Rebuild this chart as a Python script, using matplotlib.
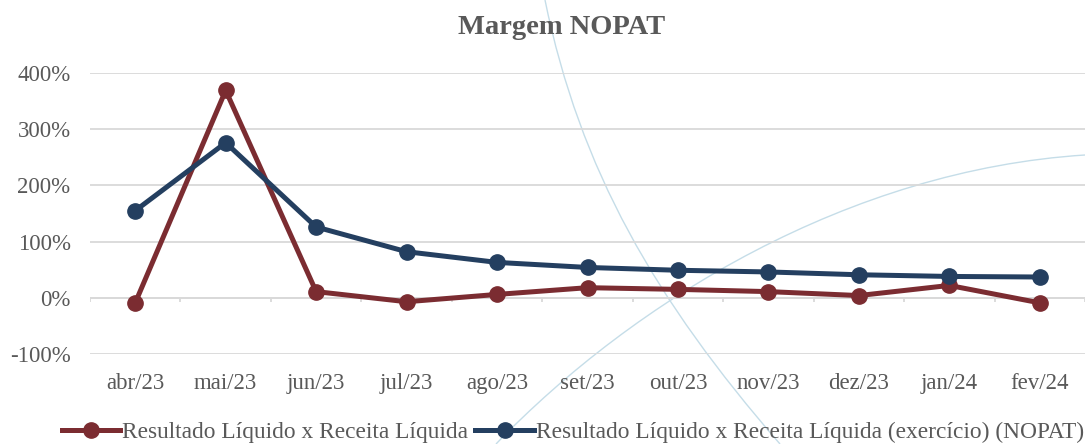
import matplotlib
matplotlib.use("Agg")
import matplotlib.pyplot as plt
from matplotlib.path import Path
from matplotlib.patches import PathPatch

plt.rcParams["font.family"] = ["Liberation Serif", "DejaVu Serif"]

# ── data ────────────────────────────────────────────────────────────────────
months = ["abr/23", "mai/23", "jun/23", "jul/23", "ago/23", "set/23",
          "out/23", "nov/23", "dez/23", "jan/24", "fev/24"]
resultado_liquido = [-9, 369, 11, -7, 6, 18, 15, 11, 4, 22, -9]
nopat = [155, 276, 126, 82, 63, 54, 49, 46, 41, 38, 37]
label_rl = "Resultado Líquido x Receita Líquida"
label_nopat = "Resultado Líquido x Receita Líquida (exercício) (NOPAT)"

RED = "#7B2C31"
BLUE = "#243F60"
TXT = "#595959"
GRID = "#D9D9D9"

W, H = 1085, 444
fig = plt.figure(figsize=(W / 100, H / 100), dpi=100)
ax = fig.add_axes([90 / W, 1 - 354 / H, 995 / W, (354 - 73) / H])

# decorative background arcs (template watermark)
def fig_curve(pts):
    verts = [(x / W, 1 - y / H) for x, y in pts]
    p = Path(verts, [Path.MOVETO, Path.CURVE4, Path.CURVE4, Path.CURVE4])
    fig.add_artist(PathPatch(p, transform=fig.transFigure, fill=False,
                             edgecolor="#C5DDE8", lw=1.0, zorder=0))

fig_curve([(545, 0), (580, 170), (655, 300), (780, 444)])
fig_curve([(496, 444), (635, 300), (850, 170), (1085, 155)])
ax.set_facecolor("none")

x = list(range(len(months)))
ax.plot(x, resultado_liquido, color=RED, lw=3.6, marker="o", ms=11,
        label=label_rl, zorder=3, solid_joinstyle="round")
ax.plot(x, nopat, color=BLUE, lw=3.6, marker="o", ms=11,
        label=label_nopat, zorder=3, solid_joinstyle="round")

ax.set_xlim(-0.5, len(months) - 0.5)
ax.set_ylim(-100, 400)
ax.set_yticks(range(-100, 401, 100))
ax.set_yticklabels([f"{v}%" for v in range(-100, 401, 100)])
ax.grid(axis="y", color=GRID, lw=1.3)
ax.set_axisbelow(True)
for s in ax.spines.values():
    s.set_visible(False)
ax.axhline(0, color=GRID, lw=1.3, zorder=1)
ax.vlines([i - 0.5 for i in range(len(months) + 1)], -8, 0, color=GRID, lw=1.3, zorder=1)

ax.set_xticks(x)
ax.set_xticklabels(months)
ax.tick_params(axis="x", length=0, pad=14, labelsize=16.5, labelcolor=TXT)
ax.tick_params(axis="y", length=0, pad=14, labelsize=16.5, labelcolor=TXT)

fig.text(562 / W, 1 - 27 / H, "Margem NOPAT", ha="center", va="center",
         fontsize=20.5, fontweight="bold", color=TXT)

fig.legend(loc="center", bbox_to_anchor=(573 / W, 1 - 432 / H), ncol=2,
           frameon=False, fontsize=16.8, labelcolor=TXT, handlelength=2.5,
           handletextpad=0.1, columnspacing=0.3, borderaxespad=0)

fig.savefig("out.png", dpi=100)
